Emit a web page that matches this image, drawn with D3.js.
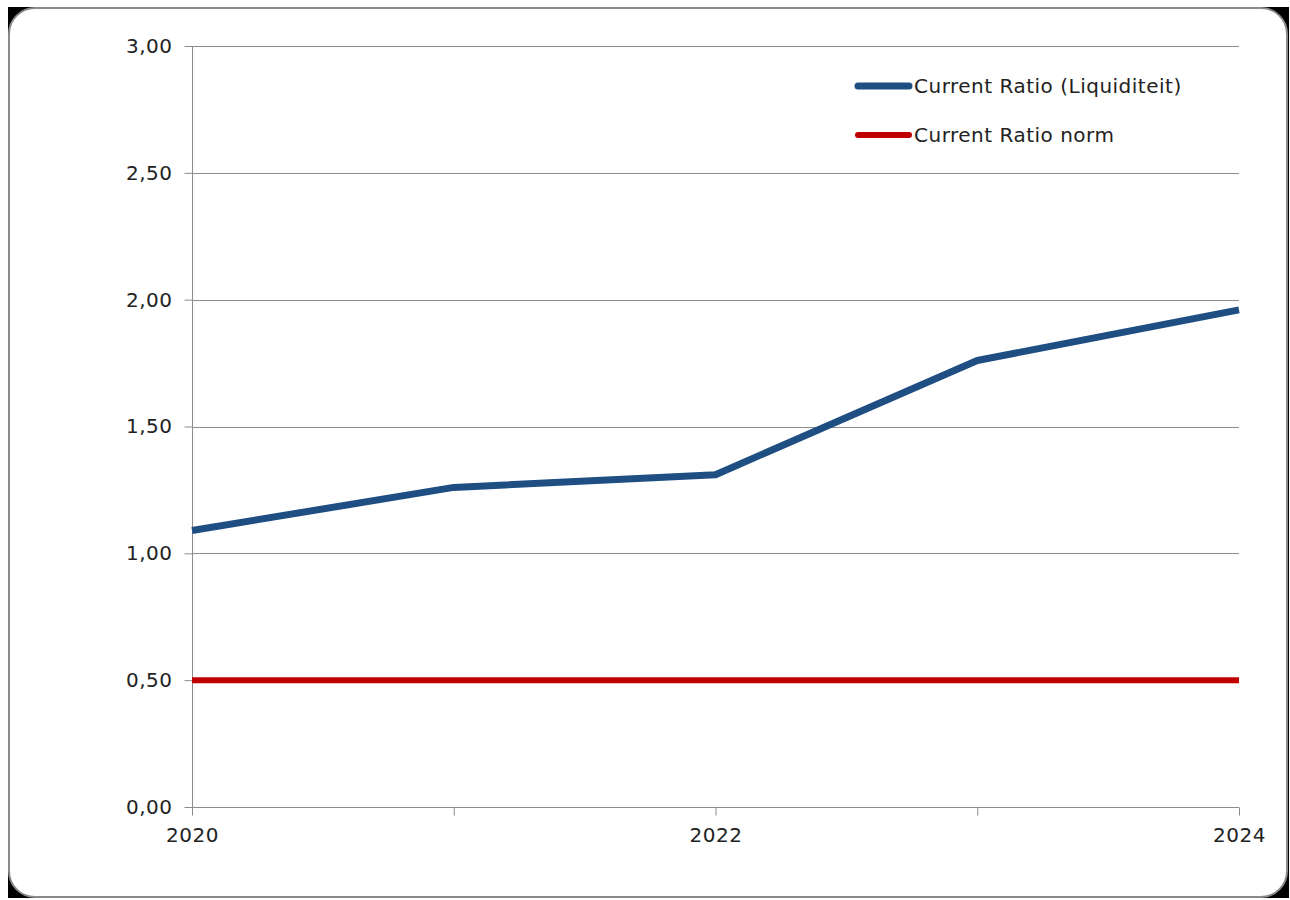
<!DOCTYPE html>
<html><head><meta charset="utf-8">
<script src="https://cdn.jsdelivr.net/npm/d3@7"></script>
<style>html,body{margin:0;padding:0;background:#fff;}svg{display:block;}</style>
</head><body>
<script>
const years = [2020, 2021, 2022, 2023, 2024];
const yearLabels = ["2020", "", "2022", "", "2024"];
const currentRatio = [1.09, 1.26, 1.31, 1.76, 1.96];
const currentRatioNorm = [0.50, 0.50, 0.50, 0.50, 0.50];
const yTicks = [0, 0.5, 1, 1.5, 2, 2.5, 3];
const seriesNames = ["Current Ratio (Liquiditeit)", "Current Ratio norm"];
const seriesColors = ["#1F4E82", "#C00000"];

const W = 1290, H = 900;
const svg = d3.select("body").append("svg").attr("width", W).attr("height", H);
const font = "'DejaVu Sans', Verdana, sans-serif";
const fs = 20, ls = 0.5;

// frame: black backdrop with rounded white card
svg.append("rect").attr("x", 8).attr("y", 7).attr("width", 1281).attr("height", 891).attr("fill", "#000");
svg.append("rect").attr("x", 9).attr("y", 8).attr("width", 1278).attr("height", 889)
  .attr("rx", 26).attr("ry", 26).attr("fill", "#fff").attr("stroke", "#8a8a8a").attr("stroke-width", 2);

const x = d3.scaleLinear().domain([2020, 2024]).range([192, 1239]);
const y = d3.scaleLinear().domain([0, 3]).range([807, 46]);

// gridlines
const grid = svg.append("g");
grid.selectAll("line").data(yTicks.filter(d => d > 0)).join("line")
  .attr("x1", x(2020)).attr("x2", x(2024))
  .attr("y1", d => Math.round(y(d)) + 0.5).attr("y2", d => Math.round(y(d)) + 0.5)
  .attr("stroke", "#8c8c8c").attr("stroke-width", 1);

// y axis
const yAxis = svg.append("g").attr("transform", `translate(${x(2020) + 0.5},0)`)
  .call(d3.axisLeft(y).tickValues(yTicks).tickSize(8).tickPadding(12)
    .tickFormat(d => d3.format(".2f")(d).replace(".", ",")));
yAxis.select(".domain").attr("stroke", "#8c8c8c").attr("d", `M0,${y(3)}V${y(0)}`);
yAxis.selectAll(".tick line").attr("stroke", "#8c8c8c");
yAxis.selectAll("text").attr("font-family", font).attr("font-size", fs)
  .attr("letter-spacing", ls).attr("fill", "#222");

// x axis
const xAxis = svg.append("g").attr("transform", `translate(0,${Math.round(y(0)) + 0.5})`)
  .call(d3.axisBottom(x).tickValues(years).tickSize(8).tickPadding(12)
    .tickFormat((d, i) => yearLabels[i]));
xAxis.select(".domain").attr("stroke", "#8c8c8c").attr("d", `M${x(2020)},0H${x(2024)}`);
xAxis.selectAll(".tick line").attr("stroke", "#8c8c8c");
xAxis.selectAll("text").attr("font-family", font).attr("font-size", fs)
  .attr("letter-spacing", ls).attr("fill", "#222");

// series
const line = d3.line().x((d, i) => x(years[i])).y(d => y(d));
svg.append("path").datum(currentRatioNorm).attr("d", line)
  .attr("fill", "none").attr("stroke", seriesColors[1]).attr("stroke-width", 6);
svg.append("path").datum(currentRatio).attr("d", line)
  .attr("fill", "none").attr("stroke", seriesColors[0]).attr("stroke-width", 7)
  .attr("stroke-linejoin", "round");

// legend
const leg = svg.append("g");
const legY = [86, 135];
const legW = [7, 6];
seriesNames.forEach((n, i) => {
  leg.append("line").attr("x1", 858).attr("x2", 909).attr("y1", legY[i]).attr("y2", legY[i])
    .attr("stroke", seriesColors[i]).attr("stroke-width", legW[i]).attr("stroke-linecap", "round");
  leg.append("text").attr("x", 914).attr("y", legY[i]).attr("dy", "0.35em")
    .attr("font-family", font).attr("font-size", fs).attr("letter-spacing", ls)
    .attr("fill", "#222").text(n);
});
</script>
</body></html>
